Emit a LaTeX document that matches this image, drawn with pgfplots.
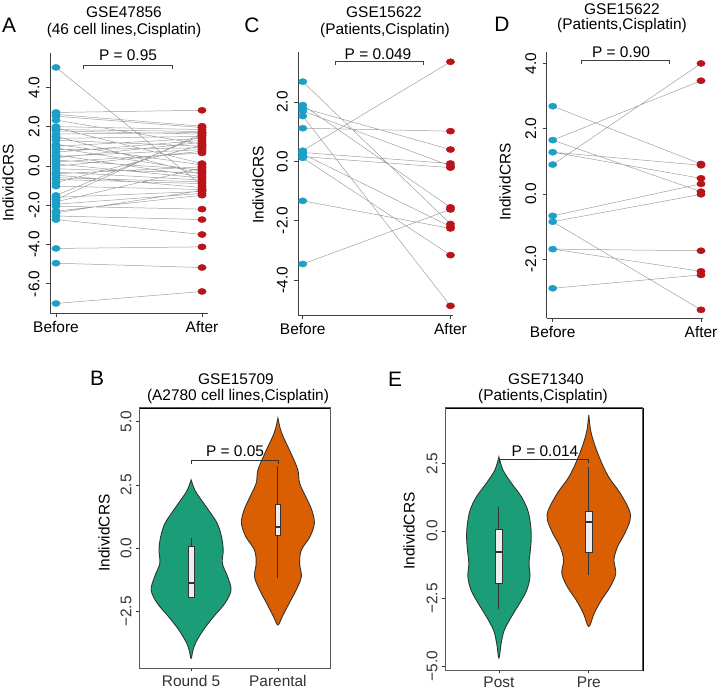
\documentclass[border=0pt]{standalone}
\usepackage{pgfplots}
\pgfplotsset{compat=1.18}
\usepackage{fontspec}
\setmainfont{Liberation Sans}
\definecolor{ptblue}{RGB}{28,160,200}
\definecolor{ptred}{RGB}{185,20,25}
\definecolor{lgray}{RGB}{160,160,160}
\definecolor{vgreen}{HTML}{1B9E77}
\definecolor{vorange}{HTML}{D95F02}
\definecolor{outl}{HTML}{333333}
\definecolor{boxfill}{HTML}{EEEEEE}
\newcommand{\fs}{\fontsize{15.5}{17}\selectfont}
\newcommand{\fl}{\fontsize{21}{22}\selectfont}
\pgfplotsset{
  rpanel/.style={scale only axis, clip=false,
    axis x line*=bottom, axis y line*=left,
    tick align=outside, major tick length=4bp,
    xtick={1,2}, xticklabels={Before,After},
    tick label style={font=\fs, text=black},
    yticklabel style={rotate=90, anchor=south},
    yticklabel shift=3bp, xticklabel shift=1bp,
    axis line style={draw=black!75, line width=0.7bp},
    tick style={draw=black!75, line width=0.7bp}},
  gpanel/.style={scale only axis, clip=false, xmin=0.4, xmax=2.6,
    tick align=outside, major tick length=3bp,
    xtick={1,2}, xtick pos=bottom, ytick pos=left,
    tick label style={font=\fs, text=black!80},
    yticklabel style={rotate=90, anchor=south},
    yticklabel shift=1bp,
    tick style={draw=black!80, line width=0.7bp}},
  pairline/.style={lgray, line width=0.5bp, unbounded coords=jump, no marks},
  bdot/.style={only marks, mark=*, mark size=3.1bp, color=ptblue, mark options={xscale=1.35, draw=ptblue, fill=ptblue}},
  rdot/.style={only marks, mark=*, mark size=3.1bp, color=ptred, mark options={xscale=1.35, draw=ptred, fill=ptred}},
  brk/.style={black!75, line width=0.7bp, no marks},
  violin/.style={draw=outl, line width=0.9bp, smooth, tension=0.55, no marks},
  whisk/.style={outl, line width=1.0bp, no marks},
  boxp/.style={draw=outl, fill=boxfill, line width=0.8bp, no marks},
  medl/.style={outl, line width=2.2bp, no marks},
}
\begin{document}
\begin{tikzpicture}
\useasboundingbox (0,0) rectangle (718bp,-690bp);

% ---------------- Panel A ----------------
\begin{axis}[rpanel, at={(50bp,-313.3bp)}, anchor=south west,
  width=158bp, height=260bp, xmin=0.959, xmax=2.041, ymin=-7.5, ymax=5.73,
  ytick={-6,-4,-2,0,2,4}, yticklabels={-6.0,-4.0,-2.0,0.0,2.0,4.0}]
\addplot[pairline] coordinates {
(1,5.01)(2,-1.00) (1,nan)
(1,2.72)(2,2.83) (1,nan)
(1,2.62)(2,2.02) (1,nan)
(1,2.53)(2,1.95) (1,nan)
(1,2.33)(2,1.10) (1,nan)
(1,2.00)(2,1.85) (1,nan)
(1,1.94)(2,0.12) (1,nan)
(1,1.85)(2,1.75) (1,nan)
(1,1.78)(2,1.62) (1,nan)
(1,1.62)(2,1.70) (1,nan)
(1,1.51)(2,-0.45) (1,nan)
(1,1.40)(2,1.50) (1,nan)
(1,1.31)(2,1.00) (1,nan)
(1,1.10)(2,0.05) (1,nan)
(1,1.00)(2,1.40) (1,nan)
(1,0.92)(2,-0.27) (1,nan)
(1,0.83)(2,0.92) (1,nan)
(1,0.70)(2,1.30) (1,nan)
(1,0.56)(2,-0.55) (1,nan)
(1,0.48)(2,0.83) (1,nan)
(1,0.41)(2,1.20) (1,nan)
(1,0.30)(2,-0.20) (1,nan)
(1,0.20)(2,0.66) (1,nan)
(1,0.10)(2,-0.62) (1,nan)
(1,-0.02)(2,0.75) (1,nan)
(1,-0.15)(2,-0.35) (1,nan)
(1,-0.31)(2,-0.72) (1,nan)
(1,-0.40)(2,-0.05) (1,nan)
(1,-0.47)(2,-1.10) (1,nan)
(1,-0.60)(2,-0.81) (1,nan)
(1,-0.69)(2,-0.90) (1,nan)
(1,-0.85)(2,1.05) (1,nan)
(1,-1.03)(2,-1.20) (1,nan)
(1,-1.50)(2,1.55) (1,nan)
(1,-1.60)(2,-1.30) (1,nan)
(1,-1.71)(2,1.65) (1,nan)
(1,-1.83)(2,-0.10) (1,nan)
(1,-1.95)(2,-1.40) (1,nan)
(1,-2.05)(2,-2.20) (1,nan)
(1,-2.30)(2,-1.49) (1,nan)
(1,-2.39)(2,-1.25) (1,nan)
(1,-2.55)(2,-2.73) (1,nan)
(1,-2.73)(2,-3.49) (1,nan)
(1,-4.20)(2,-4.12) (1,nan)
(1,-4.95)(2,-5.17) (1,nan)
(1,-7.00)(2,-6.39)
};
\addplot[bdot] coordinates {
(1,5.01)(1,2.72)(1,2.62)(1,2.53)(1,2.33)(1,2.00)(1,1.94)(1,1.85)(1,1.78)(1,1.62)
(1,1.51)(1,1.40)(1,1.31)(1,1.10)(1,1.00)(1,0.92)(1,0.83)(1,0.70)(1,0.56)(1,0.48)
(1,0.41)(1,0.30)(1,0.20)(1,0.10)(1,-0.02)(1,-0.15)(1,-0.31)(1,-0.40)(1,-0.47)(1,-0.60)
(1,-0.69)(1,-0.85)(1,-1.03)(1,-1.50)(1,-1.60)(1,-1.71)(1,-1.83)(1,-1.95)(1,-2.05)(1,-2.30)
(1,-2.39)(1,-2.55)(1,-2.73)(1,-4.20)(1,-4.95)(1,-7.00)};
\addplot[rdot] coordinates {
(2,-1.00)(2,2.83)(2,2.02)(2,1.95)(2,1.10)(2,1.85)(2,0.12)(2,1.75)(2,1.62)(2,1.70)
(2,-0.45)(2,1.50)(2,1.00)(2,0.05)(2,1.40)(2,-0.27)(2,0.92)(2,1.30)(2,-0.55)(2,0.83)
(2,1.20)(2,-0.20)(2,0.66)(2,-0.62)(2,0.75)(2,-0.35)(2,-0.72)(2,-0.05)(2,-1.10)(2,-0.81)
(2,-0.90)(2,1.05)(2,-1.20)(2,1.55)(2,-1.30)(2,1.65)(2,-0.10)(2,-1.40)(2,-2.20)(2,-1.49)
(2,-1.25)(2,-2.73)(2,-3.49)(2,-4.12)(2,-5.17)(2,-6.39)};
\addplot[brk] coordinates {(1.185,4.95)(1.185,5.12)(1.795,5.12)(1.795,4.95)};
\end{axis}

% ---------------- Panel C ----------------
\begin{axis}[rpanel, at={(298.3bp,-315bp)}, anchor=south west,
  width=154.4bp, height=263.3bp, xmin=0.97, xmax=2.015, ymin=-5.18, ymax=3.70,
  ytick={-4,-2,0,2}, yticklabels={-4.0,-2.0,0.0,2.0}]
\addplot[pairline] coordinates {
(1,2.69)(2,-2.11) (1,nan)
(1,1.90)(2,-1.55) (1,nan)
(1,1.80)(2,0.40) (1,nan)
(1,1.70)(2,-0.15) (1,nan)
(1,1.53)(2,-4.87) (1,nan)
(1,1.12)(2,1.02) (1,nan)
(1,0.36)(2,3.36) (1,nan)
(1,0.30)(2,-0.07) (1,nan)
(1,0.25)(2,-2.20) (1,nan)
(1,0.16)(2,-0.21) (1,nan)
(1,0.12)(2,-3.16) (1,nan)
(1,-1.33)(2,-2.26) (1,nan)
(1,-3.46)(2,-1.62)
};
\addplot[bdot] coordinates {(1,2.69)(1,1.90)(1,1.80)(1,1.70)(1,1.53)(1,1.12)(1,0.36)(1,0.30)(1,0.25)(1,0.16)(1,0.12)(1,-1.33)(1,-3.46)};
\addplot[rdot] coordinates {(2,-2.11)(2,-1.55)(2,0.40)(2,-0.15)(2,-4.87)(2,1.02)(2,3.36)(2,-0.07)(2,-2.20)(2,-0.21)(2,-3.16)(2,-2.26)(2,-1.62)};
\addplot[brk] coordinates {(1.218,3.25)(1.218,3.38)(1.815,3.38)(1.815,3.25)};
\end{axis}

% ---------------- Panel D ----------------
\begin{axis}[rpanel, at={(546.7bp,-318.3bp)}, anchor=south west,
  width=156.3bp, height=266.6bp, xmin=0.9595, xmax=2.0135, ymin=-3.81, ymax=4.36,
  ytick={-2,0,2,4}, yticklabels={-2.0,0.0,2.0,4.0}]
\addplot[pairline] coordinates {
(1,2.69)(2,0.92) (1,nan)
(1,1.65)(2,3.47) (1,nan)
(1,1.65)(2,0.07) (1,nan)
(1,1.28)(2,0.88) (1,nan)
(1,1.28)(2,0.48) (1,nan)
(1,0.90)(2,4.00) (1,nan)
(1,-0.67)(2,0.31) (1,nan)
(1,-0.85)(2,-0.01) (1,nan)
(1,-0.85)(2,-3.55) (1,nan)
(1,-1.69)(2,-1.74) (1,nan)
(1,-1.69)(2,-2.37) (1,nan)
(1,-2.89)(2,-2.48)
};
\addplot[bdot] coordinates {(1,2.69)(1,1.65)(1,1.28)(1,0.90)(1,-0.67)(1,-0.85)(1,-1.69)(1,-2.89)};
\addplot[rdot] coordinates {(2,0.92)(2,3.47)(2,0.07)(2,0.88)(2,0.48)(2,4.00)(2,0.31)(2,-0.01)(2,-3.55)(2,-1.74)(2,-2.37)(2,-2.48)};
\addplot[brk] coordinates {(1.19,3.98)(1.19,4.10)(1.786,4.10)(1.786,3.98)};
\end{axis}

% ---------------- Panel B ----------------
\begin{axis}[gpanel, at={(139bp,-668.3bp)}, anchor=south west,
  width=191bp, height=260.6bp, ymin=-4.74, ymax=5.55,
  xticklabels={Round 5,Parental},
  ytick={-2.5,0,2.5,5}, yticklabels={−2.5,0.0,2.5,5.0}]
\addplot[violin, fill=vgreen] coordinates {
(1,2.70)(0.975,2.45)(0.935,2.17)(0.80,1.51)(0.70,0.99)(0.65,0.46)(0.63,-0.07)(0.64,-0.59)
(0.58,-1.12)(0.54,-1.65)(0.61,-2.17)(0.74,-2.70)(0.86,-3.23)(0.95,-3.75)(0.98,-4.05)(1,-4.35)
(1.02,-4.05)(1.05,-3.75)(1.14,-3.23)(1.26,-2.70)(1.39,-2.17)(1.46,-1.65)(1.42,-1.12)(1.36,-0.59)
(1.37,-0.07)(1.35,0.46)(1.30,0.99)(1.20,1.51)(1.065,2.17)(1.025,2.45)(1,2.70)} -- cycle;
\addplot[violin, fill=vorange] coordinates {
(2,5.14)(1.975,4.75)(1.94,4.41)(1.85,3.75)(1.77,3.09)(1.75,2.57)(1.68,2.04)(1.61,1.51)
(1.58,0.99)(1.63,0.46)(1.73,-0.07)(1.75,-0.59)(1.73,-1.12)(1.79,-1.65)(1.87,-2.17)(1.95,-2.70)(2,-3.03)
(2.05,-2.70)(2.13,-2.17)(2.21,-1.65)(2.27,-1.12)(2.25,-0.59)(2.27,-0.07)(2.37,0.46)(2.42,0.99)
(2.39,1.51)(2.32,2.04)(2.25,2.57)(2.23,3.09)(2.15,3.75)(2.06,4.41)(2.025,4.75)(2,5.14)} -- cycle;
\addplot[whisk] coordinates {(1,-1.98)(1,0.42)};
\addplot[whisk] coordinates {(2,-1.19)(2,3.23)};
\addplot[boxp] coordinates {(0.967,-1.94)(1.033,-1.94)(1.033,0.09)(0.967,0.09)} -- cycle;
\addplot[boxp] coordinates {(1.967,0.49)(2.033,0.49)(2.033,1.74)(1.967,1.74)} -- cycle;
\addplot[medl] coordinates {(0.967,-1.38)(1.033,-1.38)};
\addplot[medl] coordinates {(1.967,0.83)(2.033,0.83)};
\addplot[brk, black!80] coordinates {(1,3.32)(1,3.49)(2,3.49)(2,3.32)};
\draw[black!65, line width=0.8bp] (rel axis cs:0,0) rectangle (rel axis cs:1,1);
\end{axis}

% ---------------- Panel E ----------------
\begin{axis}[gpanel, at={(445bp,-670bp)}, anchor=south west,
  width=197.7bp, height=262.3bp, ymin=-5.15, ymax=4.57,
  xticklabels={Post,Pre},
  ytick={-5,-2.5,0,2.5}, yticklabels={−5.0,−2.5,0.0,2.5}]
\addplot[violin, fill=vgreen] coordinates {
(1,2.75)(0.955,2.26)(0.86,1.77)(0.75,1.27)(0.68,0.78)(0.65,0.28)(0.64,-0.21)(0.65,-0.70)
(0.665,-1.20)(0.655,-1.69)(0.69,-2.19)(0.77,-2.68)(0.86,-3.17)(0.94,-3.67)(0.975,-4.16)(1,-4.71)
(1.025,-4.16)(1.06,-3.67)(1.14,-3.17)(1.23,-2.68)(1.31,-2.19)(1.345,-1.69)(1.335,-1.20)(1.35,-0.70)
(1.36,-0.21)(1.35,0.28)(1.32,0.78)(1.25,1.27)(1.14,1.77)(1.045,2.26)(1,2.75)} -- cycle;
\addplot[violin, fill=vorange] coordinates {
(2,4.30)(1.98,3.74)(1.94,3.25)(1.87,2.63)(1.78,2.01)(1.65,1.40)(1.55,0.78)(1.54,0.41)
(1.60,-0.09)(1.68,-0.58)(1.72,-1.07)(1.70,-1.57)(1.76,-2.06)(1.86,-2.56)(1.94,-3.05)(2,-3.54)
(2.06,-3.05)(2.14,-2.56)(2.24,-2.06)(2.30,-1.57)(2.28,-1.07)(2.32,-0.58)(2.40,-0.09)(2.46,0.41)
(2.45,0.78)(2.35,1.40)(2.22,2.01)(2.13,2.63)(2.06,3.25)(2.02,3.74)(2,4.30)} -- cycle;
\addplot[whisk] coordinates {(1,-2.90)(1,0.90)};
\addplot[whisk] coordinates {(2,-1.63)(2,2.38)};
\addplot[boxp] coordinates {(0.963,-1.94)(1.037,-1.94)(1.037,0.07)(0.963,0.07)} -- cycle;
\addplot[boxp] coordinates {(1.963,-0.79)(2.037,-0.79)(2.037,0.74)(1.963,0.74)} -- cycle;
\addplot[medl] coordinates {(0.963,-0.79)(1.037,-0.79)};
\addplot[medl] coordinates {(1.963,0.32)(2.037,0.32)};
\addplot[brk, black!80] coordinates {(1,2.52)(1,2.67)(2,2.67)(2,2.52)};
\draw[black!65, line width=0.8bp] (rel axis cs:0,0) rectangle (rel axis cs:1,1);
\end{axis}

% ---------------- Texts ----------------
\node[font=\fl] at (9bp,-25bp) {A};
\node[font=\fs] at (124bp,-12.5bp) {GSE47856};
\node[font=\fs] at (124bp,-31bp) {(46 cell lines,Cisplatin)};
\node[font=\fs] at (128bp,-55bp) {P = 0.95};
\node[font=\fs, rotate=90] at (8bp,-183bp) {IndividCRS};

\node[font=\fl] at (252bp,-25bp) {C};
\node[font=\fs] at (384bp,-12.5bp) {GSE15622};
\node[font=\fs] at (385bp,-31bp) {(Patients,Cisplatin)};
\node[font=\fs] at (378bp,-54bp) {P = 0.049};
\node[font=\fs, rotate=90] at (258bp,-185bp) {IndividCRS};

\node[font=\fl] at (502bp,-24bp) {D};
\node[font=\fs] at (622bp,-9bp) {GSE15622};
\node[font=\fs] at (622bp,-26bp) {(Patients,Cisplatin)};
\node[font=\fs] at (621bp,-52bp) {P = 0.90};
\node[font=\fs, rotate=90] at (505bp,-182bp) {IndividCRS};

\node[font=\fl] at (97bp,-378bp) {B};
\node[font=\fs] at (236bp,-379bp) {GSE15709};
\node[font=\fs] at (238bp,-397bp) {(A2780 cell lines,Cisplatin)};
\node[font=\fs] at (235bp,-451bp) {P = 0.05};
\node[font=\fs, rotate=90] at (104bp,-533bp) {IndividCRS};

\node[font=\fl] at (395bp,-379bp) {E};
\node[font=\fs] at (546bp,-379bp) {GSE71340};
\node[font=\fs] at (543bp,-397bp) {(Patients,Cisplatin)};
\node[font=\fs] at (545bp,-451bp) {P = 0.014};
\node[font=\fs, rotate=90] at (409bp,-531bp) {IndividCRS};
\end{tikzpicture}
\end{document}
